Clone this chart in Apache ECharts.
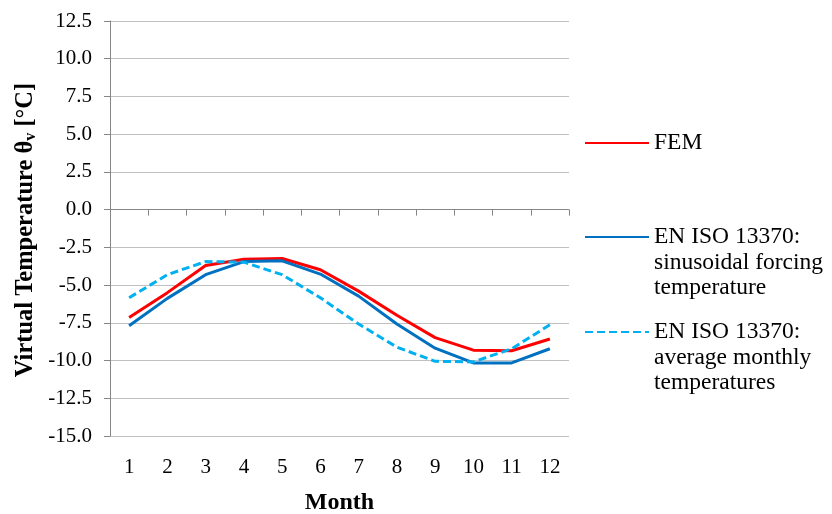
<!DOCTYPE html>
<html>
<head>
<meta charset="utf-8">
<script src="https://cdn.jsdelivr.net/npm/echarts@6/dist/echarts.min.js"></script>
<style>
  html, body { margin: 0; padding: 0; background: #fff; }
  #chart { width: 832px; height: 514px; }
</style>
</head>
<body>
<div id="chart"></div>
<script>
// Months of the year
var months = ['1', '2', '3', '4', '5', '6', '7', '8', '9', '10', '11', '12'];

// Virtual temperature θv [°C] per month
var femValues = [-7.15, -5.5, -3.7, -3.29, -3.24, -3.98, -5.4, -7.0, -8.48, -9.31, -9.35, -8.57];
var sinusoidalValues = [-7.69, -5.88, -4.31, -3.44, -3.39, -4.27, -5.73, -7.58, -9.18, -10.16, -10.16, -9.22];
var averageMonthlyValues = [-5.84, -4.31, -3.44, -3.48, -4.31, -5.84, -7.58, -9.11, -10.05, -10.09, -9.22, -7.63];

// Series names as shown in the key
var seriesNames = [
  'FEM',
  'EN ISO 13370:\nsinusoidal forcing\ntemperature',
  'EN ISO 13370:\naverage monthly\ntemperatures'
];

var serif = '"Liberation Serif", "Times New Roman", serif';
var axisGrey = '#868686';
var keyLineHeight = 25.5;

var chart = echarts.init(document.getElementById('chart'), null, { renderer: 'canvas' });

// One key block per series; blank lines ahead of the text keep the icon
// level with the first text line (the text block is centred on the icon)
function legendBlock(name, iconCenterY) {
  var lines = name.split('\n').length;
  var totalLines = 2 * lines - 1;
  var boxHeight = totalLines * keyLineHeight;
  return {
    show: true,
    orient: 'vertical',
    left: 584,
    top: iconCenterY - boxHeight / 2,
    padding: 0,
    itemWidth: 64,
    itemHeight: 14,
    itemGap: 0,
    selectedMode: false,
    itemStyle: { opacity: 0 },
    data: [name],
    formatter: function (n) {
      return new Array(lines).join('\n') + n;
    },
    textStyle: {
      fontFamily: serif,
      fontSize: 23.5,
      color: '#000',
      lineHeight: keyLineHeight
    }
  };
}

chart.setOption({
  animation: false,
  backgroundColor: '#fff',
  grid: { left: 110, right: 263, top: 21, bottom: 78, outerBoundsMode: 'none', containLabel: false },
  legend: [
    legendBlock(seriesNames[0], 143),
    legendBlock(seriesNames[1], 237),
    legendBlock(seriesNames[2], 332)
  ],
  xAxis: [
    {
      // axis line and ticks crossing at zero
      type: 'category',
      data: months,
      boundaryGap: true,
      axisLine: { show: true, onZero: true, lineStyle: { color: axisGrey, width: 1 } },
      axisTick: { show: true, length: 6, inside: false, lineStyle: { color: axisGrey } },
      axisLabel: { show: false },
      splitLine: { show: false }
    },
    {
      // month labels along the bottom of the plot
      type: 'category',
      data: months,
      position: 'bottom',
      boundaryGap: true,
      axisLine: { show: false, onZero: false },
      axisTick: { show: false },
      axisLabel: { show: true, fontFamily: serif, fontSize: 21, color: '#000', margin: 21 },
      splitLine: { show: false },
      name: 'Month',
      nameLocation: 'middle',
      nameGap: 55,
      nameTextStyle: { fontFamily: serif, fontSize: 24, fontWeight: 'bold', color: '#000' }
    }
  ],
  yAxis: {
    type: 'value',
    min: -15,
    max: 12.5,
    interval: 2.5,
    axisLine: { show: true, lineStyle: { color: axisGrey, width: 1 } },
    axisTick: { show: true, length: 6, inside: false, lineStyle: { color: axisGrey } },
    axisLabel: {
      fontFamily: serif, fontSize: 21, color: '#000', margin: 18,
      formatter: function (v) { return v.toFixed(1); }
    },
    splitLine: { show: true, lineStyle: { color: '#c0c0c0', width: 1 } }
  },
  graphic: [
    {
      type: 'text',
      x: 26,
      y: 230,
      rotation: Math.PI / 2,
      style: {
        text: 'Virtual Temperature θ{sub|v} [°C]',
        fontFamily: serif,
        fontSize: 24.5,
        fontWeight: 'bold',
        fill: '#000',
        align: 'center',
        verticalAlign: 'middle',
        rich: {
          sub: { fontFamily: serif, fontSize: 16, fontWeight: 'bold', verticalAlign: 'bottom', padding: [8, 0, 0, 0] }
        }
      }
    }
  ],
  series: [
    {
      name: seriesNames[0],
      type: 'line',
      data: femValues,
      symbol: 'none',
      color: '#ff0000',
      lineStyle: { color: '#ff0000', width: 3 }
    },
    {
      name: seriesNames[1],
      type: 'line',
      data: sinusoidalValues,
      symbol: 'none',
      color: '#0070c0',
      lineStyle: { color: '#0070c0', width: 3 }
    },
    {
      name: seriesNames[2],
      type: 'line',
      data: averageMonthlyValues,
      symbol: 'none',
      color: '#00b0f0',
      lineStyle: { color: '#00b0f0', width: 3, type: [8, 4] }
    }
  ]
});
</script>
</body>
</html>
